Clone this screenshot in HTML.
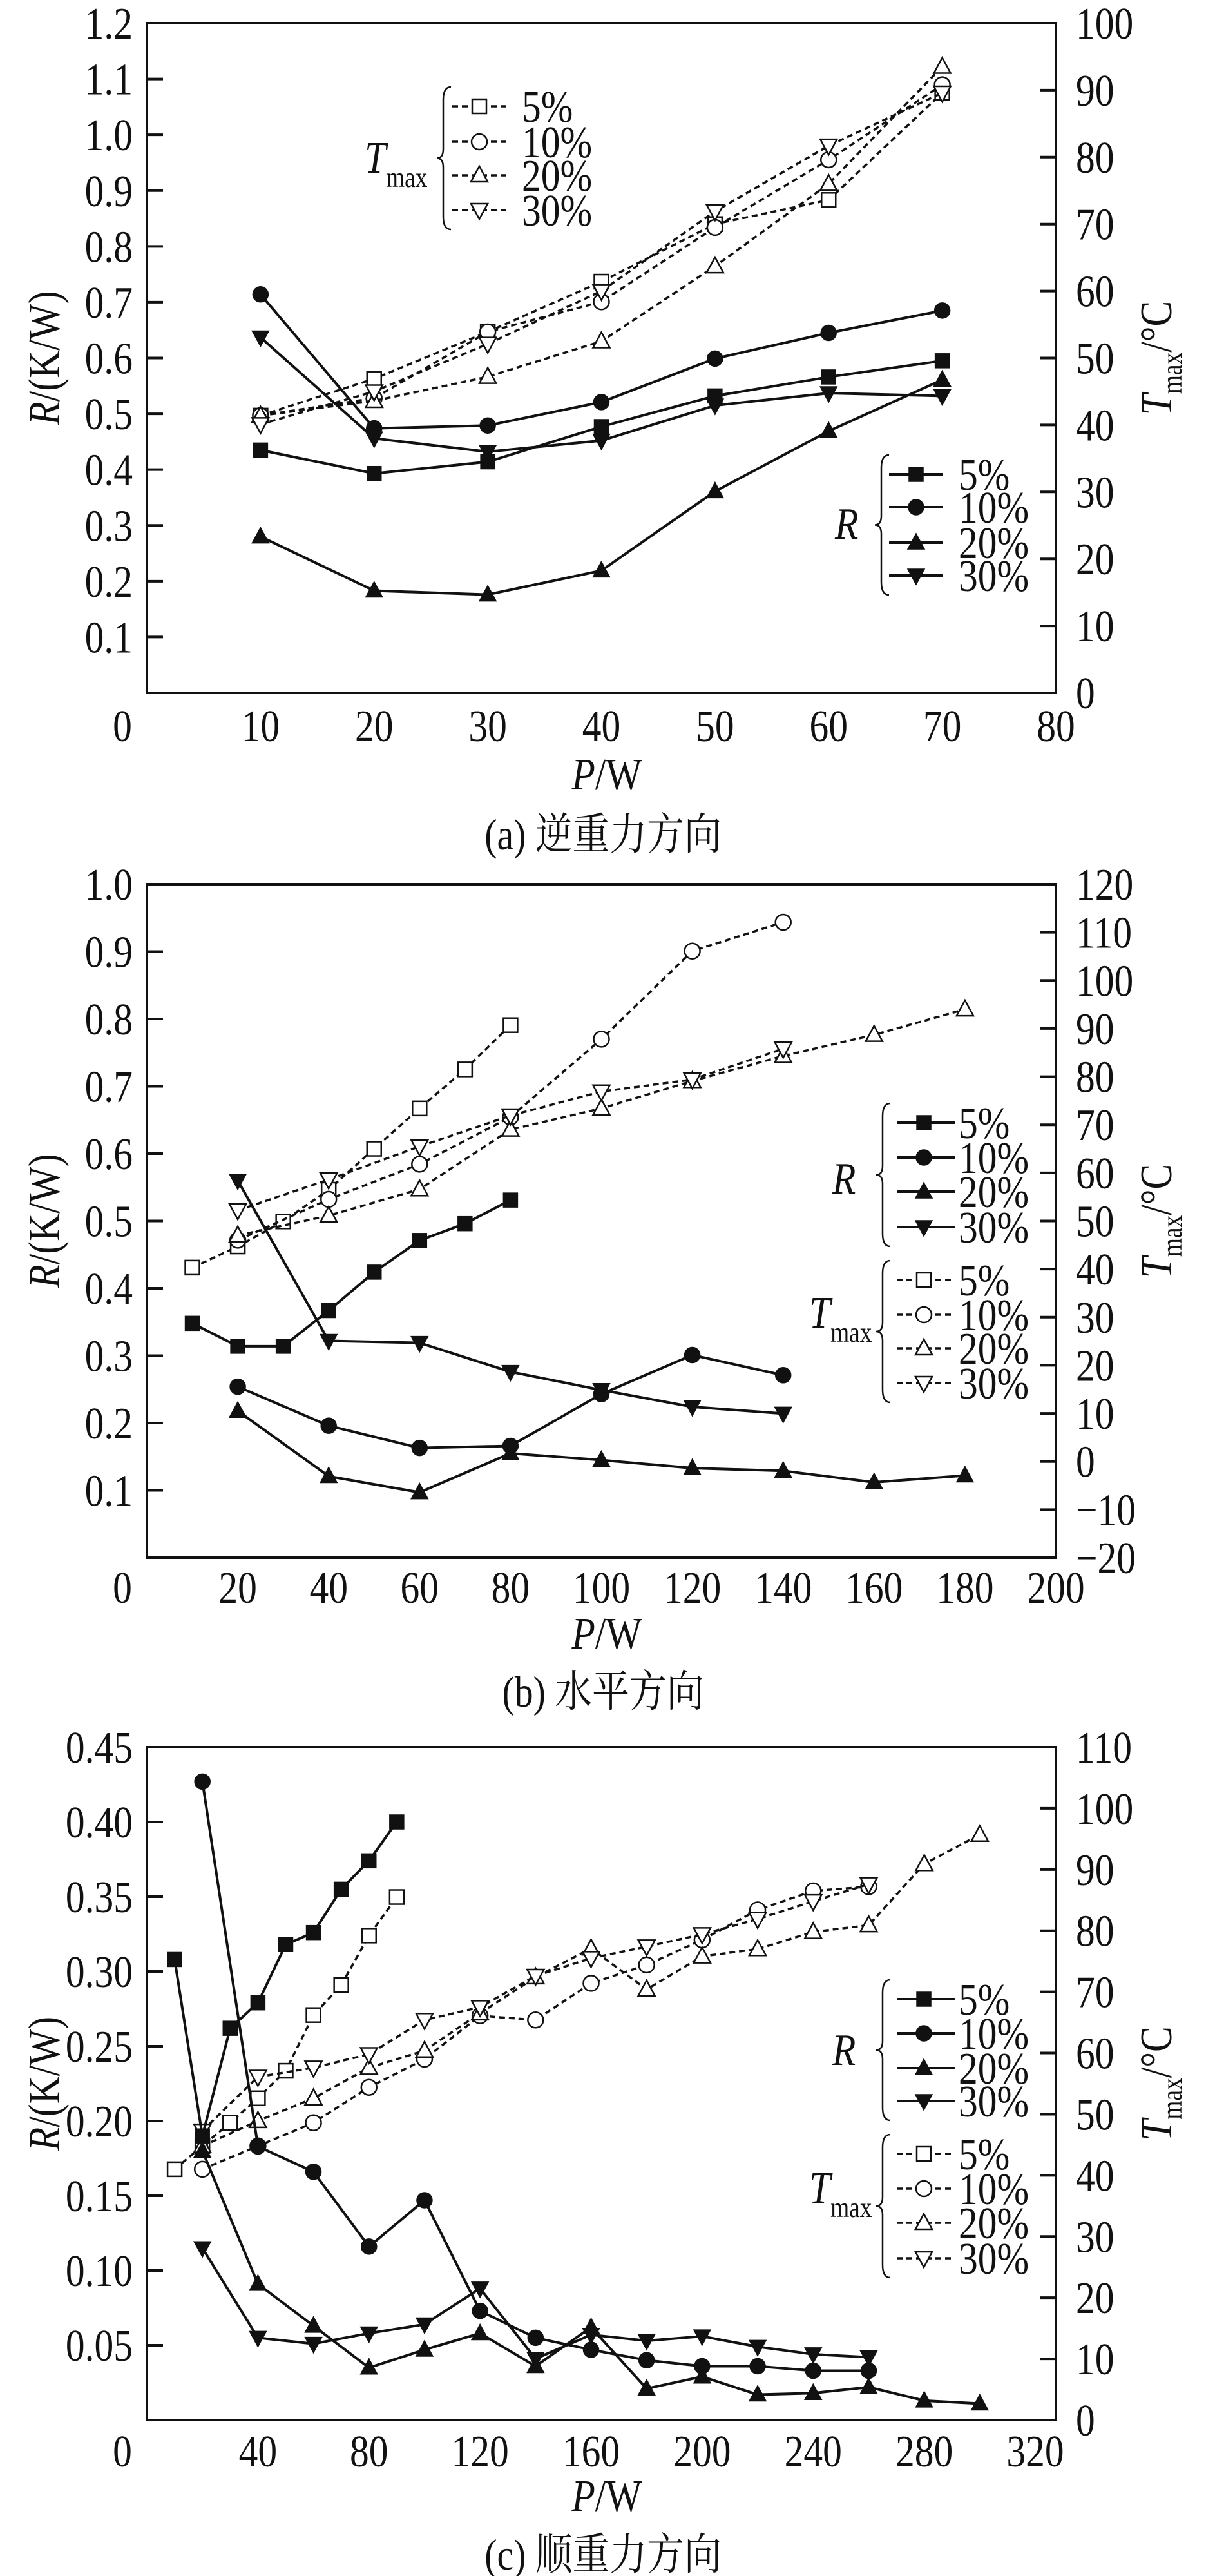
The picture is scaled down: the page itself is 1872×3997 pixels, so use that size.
<!DOCTYPE html>
<html><head><meta charset="utf-8">
<style>
html,body{margin:0;padding:0;background:#fff;}
svg{display:block;}
svg text{font-family:"Liberation Serif","DejaVu Serif","Noto Serif CJK SC",serif;fill:#111;}
</style></head>
<body>
<svg id="fig" width="1872" height="3997" viewBox="0 0 1872 3997" xmlns="http://www.w3.org/2000/svg" font-family="'Liberation Serif','DejaVu Serif','Noto Serif CJK SC',serif"></svg>
<script>
// ===== Chart (a) data =====
const aP = [10,20,30,40,50,60,70];
const aR5  = [0.435,0.393,0.414,0.477,0.532,0.566,0.595];
const aR10 = [0.714,0.474,0.479,0.521,0.599,0.645,0.685];
const aR20 = [0.280,0.183,0.176,0.219,0.361,0.469,0.561];
const aR30 = [0.637,0.456,0.432,0.452,0.515,0.537,0.532];
const aT5  = [41.4,46.9,53.9,61.4,70.0,73.6,89.6];
const aT10 = [41.4,44.0,53.9,58.4,69.5,79.6,90.8];
const aT20 = [41.4,43.6,47.2,52.5,63.7,76.0,93.5];
const aT30 = [40.1,45.0,52.1,60.0,71.9,81.7,89.6];
const aXTicks = [0,10,20,30,40,50,60,70,80];
const aRTicks = [0.1,0.2,0.3,0.4,0.5,0.6,0.7,0.8,0.9,1.0,1.1,1.2];
const aRTickLabels = ["0.1","0.2","0.3","0.4","0.5","0.6","0.7","0.8","0.9","1.0","1.1","1.2"];
const aTTicks = [0,10,20,30,40,50,60,70,80,90,100];

// ===== Chart (b) data =====
const bP5 = [10,20,30,40,50,60,70,80];
const bR5 = [0.348,0.314,0.314,0.367,0.424,0.471,0.496,0.531];
const bT5 = [40.3,44.7,49.9,56.5,65.0,73.4,81.5,90.7];
const bP10 = [20,40,60,80,100,120,140];
const bR10 = [0.254,0.196,0.163,0.166,0.243,0.301,0.271];
const bT10 = [46.0,54.5,61.8,71.6,87.8,106.1,112.1];
const bP20 = [20,40,60,80,100,120,140,160,180];
const bR20 = [0.218,0.121,0.097,0.155,0.145,0.133,0.129,0.112,0.122];
const bT20 = [47.0,51.1,56.6,69.0,73.4,79.1,84.3,88.7,94.0];
const bP30 = [20,40,60,80,100,120,140];
const bR30 = [0.560,0.322,0.319,0.276,0.249,0.224,0.214];
const bT30 = [52.2,58.6,65.5,71.9,76.9,79.4,85.8];
const bXTicks = [0,20,40,60,80,100,120,140,160,180,200];
const bRTicks = [0.1,0.2,0.3,0.4,0.5,0.6,0.7,0.8,0.9,1.0];
const bRTickLabels = ["0.1","0.2","0.3","0.4","0.5","0.6","0.7","0.8","0.9","1.0"];
const bTTicks = [-20,-10,0,10,20,30,40,50,60,70,80,90,100,110,120];

// ===== Chart (c) data =====
const cP5 = [10,20,30,40,50,60,70,80,90];
const cR5 = [0.308,0.190,0.262,0.279,0.318,0.326,0.355,0.374,0.400];
const cT5 = [41.0,44.8,48.6,52.6,57.1,66.2,71.1,79.2,85.5];
const cP10 = [20,40,60,80,100,120,140,160,180,200,220,240,260];
const cR10 = [0.427,0.183,0.166,0.116,0.147,0.073,0.055,0.047,0.040,0.036,0.036,0.033,0.033];
const cT10 = [41.0,44.8,48.6,54.4,59.0,66.1,65.4,71.4,74.4,78.5,83.4,86.5,87.2];
const cP20 = [20,40,60,80,100,120,140,160,180,200,220,240,260,280,300];
const cR20 = [0.180,0.091,0.063,0.035,0.047,0.058,0.036,0.062,0.021,0.029,0.017,0.018,0.022,0.013,0.011];
const cT20 = [44.8,48.9,52.6,57.6,60.4,66.5,72.4,77.1,70.4,75.8,77.0,79.8,80.9,90.9,95.7];
const cP30 = [20,40,60,80,100,120,140,160,180,200,220,240,260];
const cR30 = [0.115,0.055,0.051,0.058,0.064,0.088,0.041,0.057,0.053,0.056,0.049,0.044,0.042];
const cT30 = [47.3,56.1,57.6,59.8,65.4,67.5,72.6,75.5,77.4,79.4,81.9,84.8,87.6];
const cXTicks = [0,40,80,120,160,200,240,280,320];
const cRTicks = [0.05,0.10,0.15,0.20,0.25,0.30,0.35,0.40,0.45];
const cRTickLabels = ["0.05","0.10","0.15","0.20","0.25","0.30","0.35","0.40","0.45"];
const cTTicks = [0,10,20,30,40,50,60,70,80,90,100,110];

const NS = "http://www.w3.org/2000/svg";
const FONT = "'Liberation Serif','DejaVu Serif','Noto Serif CJK SC',serif";
const FS = 70;
const svg = document.getElementById('fig');
function mk(tag, attrs, parent){
  const e = document.createElementNS(NS, tag);
  for (const k in attrs) e.setAttribute(k, attrs[k]);
  if (tag==='text') e.setAttribute('font-family', FONT);
  (parent||svg).appendChild(e);
  return e;
}
function txt(x,y,s,anchor,size,parent,sx){
  const t = mk('text',{transform:`translate(${x},${y}) scale(${sx||0.85},1)`,'text-anchor':anchor||'start','font-size':size||FS},parent);
  t.textContent = s;
  return t;
}
function marker(g,type,x,y,filled){
  const f = filled ? '#111' : '#fff';
  const sw = filled ? 1.5 : 2.5;
  let m;
  if (type==='sq') m = mk('rect',{x:x-11,y:y-11,width:22,height:22,fill:f,stroke:'#111','stroke-width':sw},g);
  else if (type==='ci') m = mk('circle',{cx:x,cy:y,r:12,fill:f,stroke:'#111','stroke-width':sw},g);
  else if (type==='tu') m = mk('polygon',{points:`${x},${y-14} ${x+13},${y+10} ${x-13},${y+10}`,fill:f,stroke:'#111','stroke-width':sw},g);
  else m = mk('polygon',{points:`${x},${y+14} ${x+13},${y-10} ${x-13},${y-10}`,fill:f,stroke:'#111','stroke-width':sw},g);
  return m;
}

function chart(cfg){
  const g = mk('g',{});
  
  
  const L=228,R=1639,T=cfg.top,B=cfg.bottom;
  const xs = v => L + (v - cfg.xmin)/(cfg.xmax-cfg.xmin)*(cfg.xEnd - L);
  const yr = v => B - (v - 0)/(cfg.rmax)*(B-T);
  const yt = v => B - (v - cfg.tmin)/(cfg.tmax-cfg.tmin)*(B-T);
  const box = mk('rect',{x:L,y:T,width:R-L,height:B-T,fill:'none',stroke:'#111','stroke-width':4},g);
  
  
  cfg.rTicks.forEach((v,i)=>{
    const y = yr(v);
    if (Math.abs(y-T)>3) mk('line',{x1:L,y1:y,x2:L+25,y2:y,stroke:'#111','stroke-width':4},g);
    const t = txt(206,y+24,cfg.rLabels[i],'end',FS,g);
    
    
  });
  cfg.tTicks.forEach(v=>{
    const y = yt(v);
    if (v!==cfg.tmin && v!==cfg.tmax) mk('line',{x1:R-24,y1:y,x2:R,y2:y,stroke:'#111','stroke-width':4},g);
    const s = v<0 ? '\u2212'+Math.abs(v) : String(v);
    const t = txt(1670,y+24,s,'start',FS,g);
    
    
  });
  cfg.xTicks.forEach(v=>{
    let x = xs(v);
    if (v===0) x -= 38;
    const t = txt(x,cfg.xLabelY,String(v),'middle',FS,g);
    
    
  });
  const xt = mk('text',{x:942,y:cfg.xTitleY,'text-anchor':'middle','font-size':FS,transform:`translate(942,0) scale(0.85,1) translate(-942,0)`},g);
  xt.innerHTML = '<tspan font-style="italic">P</tspan>/W';
  
  
  const cy = (T+B)/2;
  const lt = mk('text',{'text-anchor':'middle','font-size':FS,transform:`translate(92,${cy}) rotate(-90) scale(0.85,1)`},g);
  lt.innerHTML = '<tspan font-style="italic">R</tspan>/(K/W)';
  
  
  const rt = mk('text',{'text-anchor':'middle','font-size':FS,transform:`translate(1818,${cy}) rotate(-90) scale(0.85,1)`},g);
  rt.innerHTML = '<tspan font-style="italic">T</tspan><tspan font-size="44" dy="16">max</tspan><tspan dy="-16">/°C</tspan>';
  
  
  const cap = mk('text',{x:936,y:cfg.capY,'text-anchor':'middle','font-size':68,transform:`translate(936,0) scale(0.85,1) translate(-936,0)`},g);
  cap.textContent = cfg.caption;
  
  

  const types = ['sq','ci','tu','td'];
  cfg.tSeries.forEach((s,i)=>{
    const sg = mk('g',{},g);
    
    
    const pts = s.p.map((p,j)=>xs(p)+','+yt(s.v[j])).join(' ');
    mk('polyline',{points:pts,fill:'none',stroke:'#111','stroke-width':3.5,'stroke-dasharray':'9,6'},sg);
    s.p.forEach((p,j)=>{
      const m = marker(sg,types[i],xs(p),yt(s.v[j]),false);
      
      
    });
  });
  cfg.rSeries.forEach((s,i)=>{
    const sg = mk('g',{},g);
    
    
    const pts = s.p.map((p,j)=>xs(p)+','+yr(s.v[j])).join(' ');
    mk('polyline',{points:pts,fill:'none',stroke:'#111','stroke-width':4},sg);
    s.p.forEach((p,j)=>{
      const m = marker(sg,types[i],xs(p),yr(s.v[j]),true);
      
      
    });
  });
  function legend(lg, filled, x0, x1, mx, lx, ys, bx, sym, symX, symY){
    const lgG = mk('g',{},g);
    
    
    ys.forEach((y,i)=>{
      const attrs = {x1:x0,y1:y,x2:x1,y2:y,stroke:'#111','stroke-width':filled?4:3.5};
      if (!filled) attrs['stroke-dasharray']='9,6';
      mk('line',attrs,lgG);
      marker(lgG,types[i],mx,y,filled);
      const t = txt(lx,y+24,cfg.pcts[i]+'%','start',FS,lgG);
      
      
    });
    const t0=ys[0]-30,t1=ys[3]+30,m=(t0+t1)/2;
    mk('path',{d:`M${bx+12},${t0} Q${bx},${t0} ${bx},${t0+20} L${bx},${m-14} Q${bx},${m} ${bx-10},${m} Q${bx},${m} ${bx},${m+14} L${bx},${t1-20} Q${bx},${t1} ${bx+12},${t1}`,fill:'none',stroke:'#111','stroke-width':2.5},lgG);
    const st = mk('text',{x:symX,y:symY,'font-size':FS,'font-style':'italic',transform:`translate(${symX},0) scale(0.85,1) translate(${-symX},0)`},lgG);
    if (sym==='R') st.textContent='R';
    else st.innerHTML='T<tspan font-style="normal" font-size="44" dy="22">max</tspan>';
  }
  cfg.legends.forEach(l=>legend(...l));
}

chart({name:'chart-a-anti-gravity',top:36,bottom:1075,xmin:0,xmax:80,xEnd:1639,rmax:1.2,tmin:0,tmax:100,
  rTicks:aRTicks,rLabels:aRTickLabels,tTicks:aTTicks,xTicks:aXTicks,xLabelY:1150,xTitleY:1225,capY:1318,
  caption:'(a) 逆重力方向',pcts:[5,10,20,30],
  tSeries:[{p:aP,v:aT5},{p:aP,v:aT10},{p:aP,v:aT20},{p:aP,v:aT30}],
  rSeries:[{p:aP,v:aR5},{p:aP,v:aR10},{p:aP,v:aR20},{p:aP,v:aR30}],
  legends:[
    [null,false,702,792,744,810,[165,220,272,326],688,'T',566,268],
    [null,true,1380,1464,1422,1488,[736,787,842,893],1368,'R',1296,836]
  ]});

chart({name:'chart-b-horizontal',top:1372,bottom:2417,xmin:0,xmax:200,xEnd:1639,rmax:1.0,tmin:-20,tmax:120,
  rTicks:bRTicks,rLabels:bRTickLabels,tTicks:bTTicks,xTicks:bXTicks,xLabelY:2487,xTitleY:2558,capY:2648,
  caption:'(b) 水平方向',pcts:[5,10,20,30],
  tSeries:[{p:bP5,v:bT5},{p:bP10,v:bT10},{p:bP20,v:bT20},{p:bP30,v:bT30}],
  rSeries:[{p:bP5,v:bR5},{p:bP10,v:bR10},{p:bP20,v:bR20},{p:bP30,v:bR30}],
  legends:[
    [null,true,1392,1482,1434,1488,[1742,1796,1849,1904],1370,'R',1292,1852],
    [null,false,1392,1482,1434,1488,[1986,2040,2092,2146],1370,'T',1256,2060]
  ]});

chart({name:'chart-c-gravity',top:2711,bottom:3755,xmin:0,xmax:320,xEnd:1607,rmax:0.45,tmin:0,tmax:110,
  rTicks:cRTicks,rLabels:cRTickLabels,tTicks:cTTicks,xTicks:cXTicks,xLabelY:3827,xTitleY:3896,capY:3987,
  caption:'(c) 顺重力方向',pcts:[5,10,20,30],
  tSeries:[{p:cP5,v:cT5},{p:cP10,v:cT10},{p:cP20,v:cT20},{p:cP30,v:cT30}],
  rSeries:[{p:cP5,v:cR5},{p:cP10,v:cR10},{p:cP20,v:cR20},{p:cP30,v:cR30}],
  legends:[
    [null,true,1392,1482,1434,1488,[3102,3155,3209,3260],1370,'R',1292,3204],
    [null,false,1392,1482,1434,1488,[3342,3396,3449,3504],1370,'T',1256,3418]
  ]});
</script>
</body></html>
